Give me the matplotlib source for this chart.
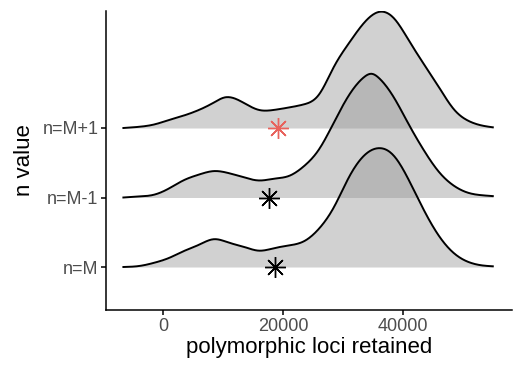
import matplotlib
matplotlib.use('Agg')
import matplotlib.pyplot as plt
import numpy as np

plt.rcParams['font.family'] = ['Liberation Sans', 'DejaVu Sans']

# ridge rows (bottom to top)
rows = ['n=M', 'n=M-1', 'n=M+1']

# density profiles (height in units of row spacing)
x_m = [-6600, -4000, -1500, 1000, 3500, 6000, 8500, 11000, 13500, 16000, 18500, 21000, 23500,
       26000, 28500, 31000, 33500, 36000, 38500, 41000, 43500, 46000, 48500, 51000, 53500, 55000]
d_m = [0, 0.014, 0.06, 0.13, 0.23, 0.32, 0.40, 0.35, 0.29, 0.235, 0.27, 0.31, 0.37,
       0.55, 0.86, 1.29, 1.60, 1.71, 1.60, 1.25, 0.82, 0.45, 0.20, 0.07, 0.02, 0.01]

x_mm1 = [-6600, -4000, -1500, 1000, 3500, 6000, 8500, 11000, 13500, 16000, 18500, 21000, 23500,
         26000, 28500, 31000, 33500, 34800, 36000, 38500, 41000, 43500, 46000, 48500, 51000, 53500, 55000]
d_mm1 = [0, 0.014, 0.04, 0.13, 0.25, 0.33, 0.38, 0.35, 0.29, 0.245, 0.27, 0.31, 0.45,
         0.69, 1.08, 1.47, 1.73, 1.78, 1.72, 1.44, 1.05, 0.68, 0.37, 0.17, 0.065, 0.03, 0.02]

x_mp1 = [-6600, -4000, -1500, 1000, 3500, 6000, 8500, 10300, 13500, 16000, 18500, 21000, 23500,
         26000, 28500, 31000, 33500, 36000, 38500, 41000, 43500, 46000, 48500, 51000, 53500, 55000]
d_mp1 = [0, 0.017, 0.05, 0.115, 0.18, 0.26, 0.367, 0.44, 0.36, 0.26, 0.26, 0.295, 0.34,
         0.48, 0.88, 1.22, 1.51, 1.67, 1.58, 1.26, 0.92, 0.59, 0.27, 0.10, 0.03, 0.01]

# star markers (selected value per row)
star_x = [18700, 17700, 19200]
star_col = ['black', 'black', '#E8625C']


def smooth(xs, ys, n=500):
    # natural cubic spline through the read points, only to draw a smooth curve
    x = np.asarray(xs, float)
    y = np.asarray(ys, float)
    k = len(x)
    h = np.diff(x)
    A = np.zeros((k, k))
    b = np.zeros(k)
    A[0, 0] = A[-1, -1] = 1
    for i in range(1, k - 1):
        A[i, i - 1] = h[i - 1]
        A[i, i] = 2 * (h[i - 1] + h[i])
        A[i, i + 1] = h[i]
        b[i] = 6 * ((y[i + 1] - y[i]) / h[i] - (y[i] - y[i - 1]) / h[i - 1])
    M = np.linalg.solve(A, b)
    xx = np.linspace(x[0], x[-1], n)
    j = np.clip(np.searchsorted(x, xx) - 1, 0, k - 2)
    a = x[j + 1] - xx
    c = xx - x[j]
    hh = h[j]
    yy = (M[j] * a**3 + M[j + 1] * c**3) / (6 * hh) \
        + (y[j] / hh - M[j] * hh / 6) * a + (y[j + 1] / hh - M[j + 1] * hh / 6) * c
    return xx, np.clip(yy, 0, None)


fig = plt.figure(figsize=(5.25, 3.75), dpi=100)
ax = fig.add_axes([106/525, 1 - 310/375, 406/525, 299/375])

ridges = [(x_m, d_m), (x_mm1, d_mm1), (x_mp1, d_mp1)]
# top ridge first so lower ones sit over it
for i in [2, 1, 0]:
    xs, ds = smooth(*ridges[i])
    base = i + 1
    z = 10 - 2 * i
    ax.fill_between(xs, base, base + ds, color=(0.6, 0.6, 0.6), alpha=0.45, lw=0, zorder=z)
    ax.plot(xs, base + ds, color='black', lw=1.4, zorder=z + 1)

for i in range(3):
    ax.plot(star_x[i], i + 1, marker=(8, 2, 0), ms=15, mew=1.0, color=star_col[i],
            ls='none', zorder=20)

ax.set_xlim(-9500, 58200)
ax.set_ylim(1 - 43/69.5, 1 + 256/69.5)
ax.set_xticks([0, 20000, 40000])
ax.set_xticklabels(['0', '20000', '40000'])
ax.set_yticks([1, 2, 3])
ax.set_yticklabels(rows)

for s in ['top', 'right']:
    ax.spines[s].set_visible(False)
for s in ['left', 'bottom']:
    ax.spines[s].set_linewidth(1.1)
ax.tick_params(length=3.5, width=1.1, labelsize=13, colors='#4D4D4D', pad=2)
ax.tick_params(color='black')

ax.set_xlabel('polymorphic loci retained', fontsize=16, labelpad=2)
ax.set_ylabel('n value', fontsize=16, labelpad=5)

fig.savefig('out.png', dpi=100)
